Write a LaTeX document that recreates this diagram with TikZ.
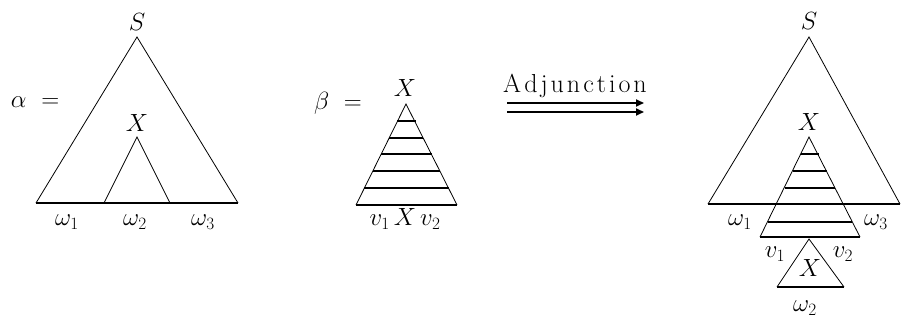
\documentclass[tikz,border=0pt]{standalone}
\usetikzlibrary{arrows.meta}
\begin{document}
\begin{tikzpicture}[x=1pt,y=-1pt,
  font=\fontsize{26}{31}\selectfont,
  side/.style={line width=0.8pt},
  basel/.style={line width=1.6pt},
  thk/.style={line width=2.2pt},
  thn/.style={line width=1.4pt},
  lbl/.style={inner sep=0pt},
  arr/.style={line width=1.8pt,-{Triangle[length=8pt,width=7pt]}}]
\useasboundingbox (0,0) rectangle (901,331);

% ---------- alpha ----------
\coordinate (aS) at (137,37);
\coordinate (aL) at (36,203);
\coordinate (aR) at (238,203);
\coordinate (aX) at (137,137);
\coordinate (aXL) at (104,203);
\coordinate (aXR) at (170,203);
\draw[side] (aL) -- (aS) -- (aR);
\draw[basel] (aL) -- (aR);
\draw[side] (aXL) -- (aX) -- (aXR);
\node[lbl] (aSl) at (137,22) {$S$};
\node[lbl] (aXl) at (137,123) {$X$};
\node[lbl] (alpha) at (35,102) {$\alpha\ =$};
\node[lbl] (aw1) at (67,222) {$\omega_1$};
\node[lbl] (aw2) at (135,222) {$\omega_2$};
\node[lbl] (aw3) at (203,222) {$\omega_3$};

% ---------- beta ----------
\coordinate (bT) at (406,104);
\coordinate (bL) at (356,205);
\coordinate (bR) at (457,205);
\draw[side] (bL) -- (bT) -- (bR);
\draw[basel] (bL) -- (bR);
\coordinate (b1L) at (397,121); \coordinate (b1R) at (416,121);
\coordinate (b2L) at (389,138); \coordinate (b2R) at (423,138);
\coordinate (b3L) at (381,154); \coordinate (b3R) at (432,154);
\coordinate (b4L) at (373,171); \coordinate (b4R) at (440,171);
\coordinate (b5L) at (364,188); \coordinate (b5R) at (449,188);
\draw[thk] (b1L) -- (b1R);
\draw[thn] (b2L) -- (b2R);
\draw[thk] (b3L) -- (b3R);
\draw[thn] (b4L) -- (b4R);
\draw[thk] (b5L) -- (b5R);
\node[lbl] (beta) at (338,103) {$\beta\ =$};
\node[lbl] (bXl) at (405,88) {$X$};
\node[lbl] (bfoot) at (405,219) {$v_1\,X\,v_2$};

% ---------- arrow ----------
\node[lbl,anchor=base] (adj) at (575,93) {A\kern3pt d\kern3pt j\kern3pt u\kern3pt n\kern3pt c\kern3pt t\kern3pt i\kern3pt o\kern3pt n};
\coordinate (ar1s) at (507,103); \coordinate (ar1e) at (644,103);
\coordinate (ar2s) at (507,112); \coordinate (ar2e) at (644,112);
\draw[arr] (ar1s) -- (ar1e);
\draw[arr] (ar2s) -- (ar2e);

% ---------- result ----------
\coordinate (rS) at (809,37);
\coordinate (rL) at (708,204);
\coordinate (rR) at (900,204);
\draw[side] (rL) -- (rS) -- (rR);
\draw[basel] (rL) -- (rR);
\coordinate (rT) at (809,137);
\coordinate (rBL) at (760,237);
\coordinate (rBR) at (860,237);
\draw[side] (rBL) -- (rT) -- (rBR);
\draw[basel] (rBL) -- (rBR);
\coordinate (r1L) at (801,154); \coordinate (r1R) at (819,154);
\coordinate (r2L) at (793,171); \coordinate (r2R) at (827,171);
\coordinate (r3L) at (785,188); \coordinate (r3R) at (835,188);
\coordinate (r5L) at (768,222); \coordinate (r5R) at (852,222);
\draw[thk] (r1L) -- (r1R);
\draw[thn] (r2L) -- (r2R);
\draw[thk] (r3L) -- (r3R);
\draw[thn] (r5L) -- (r5R);
\coordinate (rXT) at (809,239);
\coordinate (rXL) at (777,287);
\coordinate (rXR) at (844,287);
\draw[side] (rXL) -- (rXT) -- (rXR);
\draw[basel] (rXL) -- (rXR);
\node[lbl] (rSl) at (809,21) {$S$};
\node[lbl] (rXl) at (809,122) {$X$};
\node[lbl] (rw1) at (740,222) {$\omega_1$};
\node[lbl] (rw3) at (876,222) {$\omega_3$};
\node[lbl] (rv1) at (775,254) {$v_1$};
\node[lbl] (rv2) at (843,254) {$v_2$};
\node[lbl] (rX2) at (810,268) {$X$};
\node[lbl] (rw2) at (805,308) {$\omega_2$};
\end{tikzpicture}
\end{document}
